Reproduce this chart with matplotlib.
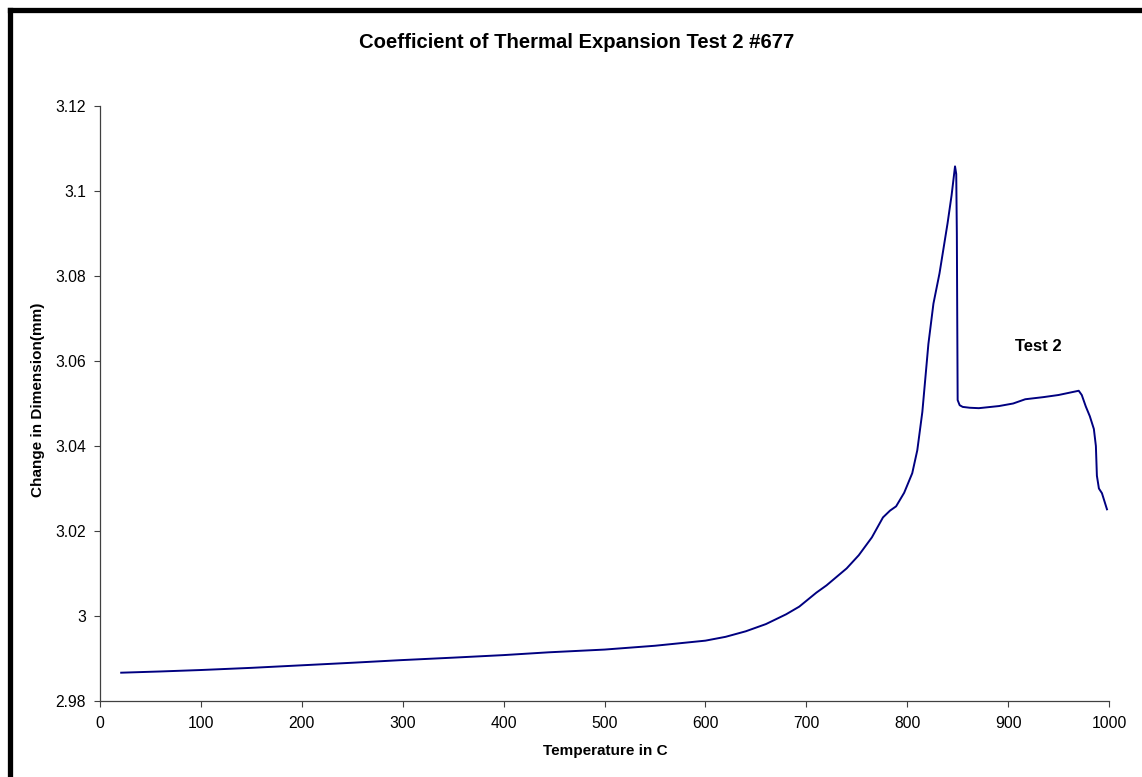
"""
Courbe de dilatation thermique (Test 2 #677), style Excel.
"""

import matplotlib
matplotlib.use("Agg")
import matplotlib.pyplot as plt
from matplotlib.lines import Line2D

# ---------------------------------------------------------------------------
# Données
# ---------------------------------------------------------------------------

temperatures = [21, 60, 100, 150, 200, 250, 297, 350, 400, 445,
                500, 550, 600, 620, 640, 660, 680, 693, 710, 720,
                724, 740, 752, 765, 776, 783, 789, 797, 805, 810,
                815, 818, 821, 826, 832, 840, 844, 847.4, 848.6, 849.2, 849.6,
                850, 852, 855, 862, 871, 891, 905, 917, 935, 950,
                962, 970, 973, 977, 981, 985, 987, 988, 990, 993, 998]

dimensions = [2.98666, 2.98695, 2.98729, 2.9878, 2.9884, 2.9890, 2.9896, 2.9902, 2.9908, 2.99146,
              2.9921, 2.9930, 2.9942, 2.9951, 2.9964, 2.9981, 3.0004, 3.0022, 3.0055, 3.0072,
              3.0080, 3.0112, 3.0143, 3.0185, 3.0232, 3.0248, 3.0258, 3.0290, 3.0336, 3.0390,
              3.0480, 3.0560, 3.0640, 3.0735, 3.0806, 3.0924, 3.0990, 3.1058, 3.1040, 3.0900, 3.0700,
              3.0508, 3.0496, 3.0492, 3.0490, 3.0489, 3.0494, 3.0500, 3.0510, 3.0515, 3.0520,
              3.0526, 3.0530, 3.0520, 3.0493, 3.0470, 3.0440, 3.0400, 3.0330, 3.0300, 3.0289, 3.0251]

x_ticks = [0, 100, 200, 300, 400, 500, 600, 700, 800, 900, 1000]
y_ticks = [2.98, 3.0, 3.02, 3.04, 3.06, 3.08, 3.1, 3.12]
y_tick_labels = ["2.98", "3", "3.02", "3.04", "3.06", "3.08", "3.1", "3.12"]

TITRE = "Coefficient of Thermal Expansion Test 2 #677"
LABEL_X = "Temperature in C"
LABEL_Y = "Change in Dimension(mm)"
LABEL_SERIE = "Test 2"

plt.rcParams["font.family"] = ["Liberation Sans", "DejaVu Sans"]

fig = plt.figure(figsize=(11.42, 7.77), dpi=100)
ax = fig.add_axes([100 / 1142, 1 - 701 / 777, 1009 / 1142, 595 / 777])

ax.plot(temperatures, dimensions, color="#000080", linewidth=1.4)

ax.set_xlim(0, 1000)
ax.set_ylim(2.98, 3.12)
ax.set_xticks(x_ticks)
ax.set_yticks(y_ticks)
ax.set_yticklabels(y_tick_labels)
ax.tick_params(axis="both", direction="out", length=4, width=0.8,
               color="#404040", labelsize=11.3)
ax.tick_params(axis="x", pad=7)
ax.tick_params(axis="y", pad=6)

for cote in ("top", "right"):
    ax.spines[cote].set_visible(False)
for cote in ("left", "bottom"):
    ax.spines[cote].set_color("#404040")
    ax.spines[cote].set_linewidth(0.9)

ax.text(930, 3.0633, LABEL_SERIE, fontsize=12, fontweight="bold",
        ha="center", va="center")

fig.text(577 / 1142, 1 - 42 / 777, TITRE, fontsize=14.6, fontweight="bold",
         ha="center", va="center")
fig.text(605 / 1142, 1 - 751 / 777, LABEL_X, fontsize=11, fontweight="bold",
         ha="center", va="center")
fig.text(38 / 1142, 1 - 400 / 777, LABEL_Y, fontsize=11, fontweight="bold",
         ha="center", va="center", rotation=90)

# bordure noire (haut et gauche) du cadre du graphique
fig.add_artist(Line2D([9.5 / 1142, 9.5 / 1142], [0, 1 - 9.5 / 777],
                      transform=fig.transFigure, color="black", linewidth=3.8,
                      solid_capstyle="projecting"))
fig.add_artist(Line2D([9.5 / 1142, 1], [1 - 9.5 / 777, 1 - 9.5 / 777],
                      transform=fig.transFigure, color="black", linewidth=3.8,
                      solid_capstyle="projecting"))

fig.savefig("out.png", dpi=100)
